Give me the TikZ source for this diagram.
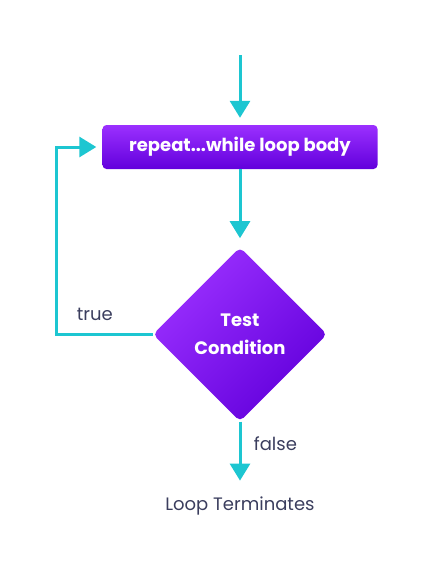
\documentclass[tikz,border=0pt]{standalone}
\usepackage{fontspec}
\setmainfont{Poppins}
\usetikzlibrary{positioning}
\usetikzlibrary{shapes.geometric}
\usetikzlibrary{arrows.meta}
\definecolor{flowline}{HTML}{1DC6D1}
\definecolor{violetlight}{HTML}{9B30FF}
\definecolor{violetdark}{HTML}{6200DC}
\definecolor{textgray}{HTML}{3B3E5E}

\begin{document}
\begin{tikzpicture}[x=1pt,y=1pt,
  flow/.style={-{Triangle[width=20pt,length=17pt]},line width=3pt,draw=flowline},
  body/.style={rectangle,rounded corners=4pt,minimum width=275pt,minimum height=44pt,
    top color=violetlight,bottom color=violetdark,text=white,
    font=\bfseries\fontsize{18}{20}\selectfont},
  cond/.style={diamond,rounded corners=5pt,minimum size=174pt,inner sep=0pt,
    top color=violetlight,bottom color=violetdark,shading angle=45,text=white,
    align=center,font=\bfseries\fontsize{18}{28}\selectfont},
  tag/.style={text=textgray,font=\fontsize{18}{20}\selectfont}]
\useasboundingbox (0,0) rectangle (435,-573);
\node[body]   (B)                   at (240,-147) {repeat...while loop body};
\coordinate   (S)                   at (240,-55);
\node[cond]   (C) [below=78pt of B]  {Test\\Condition};
\node[tag]    (T) [below=72pt of C]  {Loop Terminates};
\coordinate   (L)                   at ([xshift=-46pt]B.west);

\draw[flow,shorten >=7pt] (S) -- (B);
\draw[flow,shorten >=9pt] (B) -- (C);
\draw[flow,shorten >=6pt] (C.west) -| node[tag,pos=0.3,above=9pt] {true} (L) -- (B.west);
\draw[flow,shorten >=13pt] (C.south) -- node[tag,pos=0.3,right=9pt] {false} (T);
\end{tikzpicture}
\end{document}
